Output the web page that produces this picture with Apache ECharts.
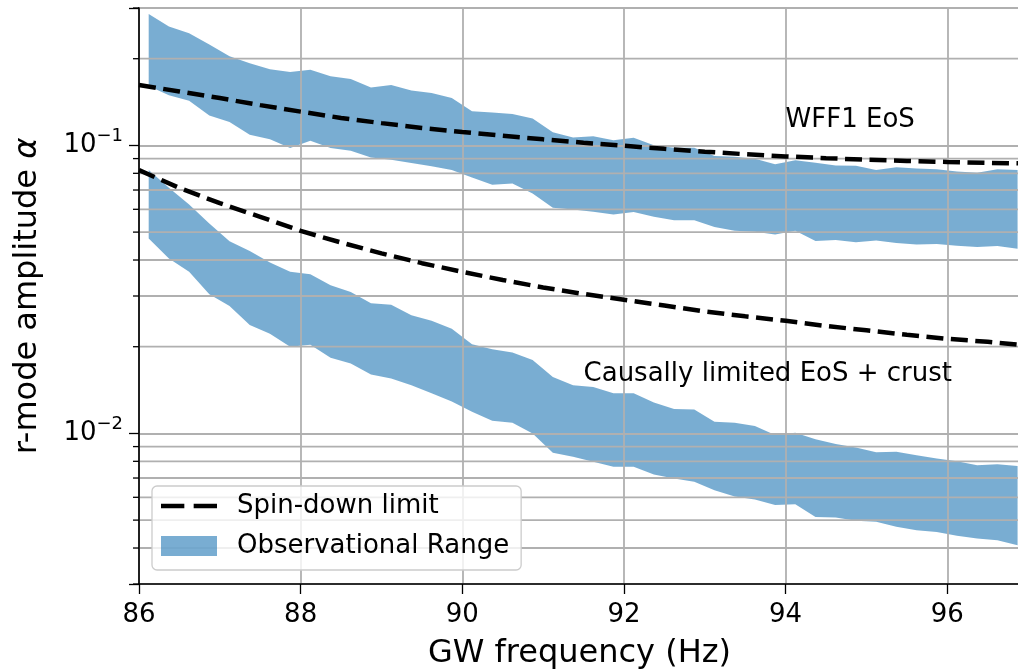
<!DOCTYPE html>
<html>
<head>
<meta charset="utf-8">
<script src="https://cdn.jsdelivr.net/npm/echarts@6/dist/echarts.min.js"></script>
<style>
  html, body { margin: 0; padding: 0; background: #ffffff; }
  #chart { width: 1018px; height: 670px; }
</style>
</head>
<body>
<div id="chart"></div>
<script>
// GW frequency samples of the observational bands (Hz)
const freq = [86.12, 86.37, 86.62, 86.87, 87.12, 87.37, 87.62, 87.87, 88.12, 88.37, 88.62,
  88.87, 89.12, 89.37, 89.62, 89.87, 90.12, 90.37, 90.62, 90.87, 91.12, 91.37, 91.62, 91.87,
  92.12, 92.37, 92.62, 92.87, 93.12, 93.37, 93.62, 93.87, 94.12, 94.37, 94.62, 94.87, 95.12,
  95.37, 95.62, 95.87, 96.12, 96.37, 96.62, 96.87];

// WFF1 EoS observational range (upper / lower edge)
const wffHigh = [0.286, 0.259, 0.245, 0.224, 0.204, 0.193, 0.184, 0.180, 0.183, 0.174, 0.170,
  0.159, 0.162, 0.155, 0.152, 0.146, 0.1315, 0.130, 0.1285, 0.124, 0.111, 0.1066, 0.1077, 0.1043,
  0.1063, 0.1002, 0.0981, 0.0981, 0.0918, 0.0913, 0.0899, 0.0861, 0.0889, 0.0870, 0.0852, 0.0850,
  0.0821, 0.0839, 0.0832, 0.0826, 0.0812, 0.0803, 0.0826, 0.0821];
const wffLow = [0.1607, 0.1492, 0.1429, 0.1271, 0.1205, 0.1088, 0.1051, 0.0979, 0.1037, 0.0979,
  0.0958, 0.0908, 0.0891, 0.0868, 0.0847, 0.0821, 0.0774, 0.0730, 0.0738, 0.0681, 0.0607, 0.0599,
  0.0588, 0.0576, 0.0587, 0.0565, 0.0550, 0.0550, 0.0521, 0.0505, 0.0501, 0.0491, 0.0505, 0.0466,
  0.0469, 0.0461, 0.0468, 0.0458, 0.0453, 0.0455, 0.0448, 0.0444, 0.0447, 0.0438];

// Causally limited EoS + crust observational range (upper / lower edge)
const causalHigh = [0.0821, 0.0713, 0.0624, 0.0536, 0.0465, 0.0430, 0.0392, 0.0364, 0.0357,
  0.0327, 0.0310, 0.0283, 0.0280, 0.0257, 0.0246, 0.0231, 0.0204, 0.0196, 0.0191, 0.0180, 0.0157,
  0.0147, 0.0145, 0.0138, 0.0138, 0.0128, 0.01215, 0.0121, 0.01097, 0.01088, 0.0106, 0.00987,
  0.01005, 0.00955, 0.00918, 0.00894, 0.00861, 0.00863, 0.00839, 0.00819, 0.00801, 0.00776,
  0.00782, 0.0077];
const causalLow = [0.0475, 0.0405, 0.0364, 0.0304, 0.0277, 0.0238, 0.0222, 0.0200, 0.0203,
  0.0183, 0.0175, 0.0160, 0.0155, 0.0147, 0.0138, 0.0129, 0.0119, 0.01106, 0.01088, 0.0100,
  0.00856, 0.00829, 0.00797, 0.00766, 0.00766, 0.0072, 0.00698, 0.00679, 0.00635, 0.00604,
  0.0059, 0.00564, 0.00568, 0.00513, 0.00511, 0.00497, 0.00493, 0.00474, 0.00461, 0.00455,
  0.00441, 0.00432, 0.00426, 0.00409];

// Spin-down limits
const sdFreq = [86, 86.5, 87, 87.5, 88, 88.5, 89, 89.5, 90, 90.5, 91, 91.5, 92, 92.5, 93, 93.5,
  94, 94.5, 95, 95.5, 96, 96.5, 96.9];
const sdWff = [0.162, 0.154, 0.146, 0.138, 0.131, 0.1245, 0.1195, 0.1150, 0.1113, 0.1080, 0.1050,
  0.1022, 0.0997, 0.0973, 0.0951, 0.0932, 0.0916, 0.0903, 0.0892, 0.0883, 0.0876, 0.0870, 0.0866];
const sdCausal = [0.0821, 0.0712, 0.0630, 0.0565, 0.0505, 0.0460, 0.0422, 0.0390, 0.0364, 0.0341,
  0.0321, 0.0305, 0.0291, 0.0278, 0.0265, 0.0255, 0.0246, 0.0236, 0.0228, 0.0220, 0.0213, 0.0208,
  0.0203];

// Axis ranges and ticks
const xRange = [86, 96.9];
const xTickStep = 2;
const yRange = [0.003, 0.3];
const yMinorTicks = [0.003, 0.004, 0.005, 0.006, 0.007, 0.008, 0.009,
  0.02, 0.03, 0.04, 0.05, 0.06, 0.07, 0.08, 0.09, 0.2, 0.3];

// Text annotations: [frequency, amplitude] of the text baseline start
const annotationText = ['WFF1 EoS', 'Causally limited EoS + crust'];
const annotationPos = [[94, 0.115], [91.5, 0.015]];

const FONT = 'DejaVu Sans';
const BAND_COLOR = 'rgba(31,119,180,0.6)';
const GRID_COLOR = '#b0b0b0';

function bandSeries(lo, hi) {
  const rows = freq.map((f, i) => [f, lo[i], hi[i]]);
  return {
    type: 'custom',
    name: 'Observational Range',
    z: 1,
    silent: true,
    itemStyle: { color: BAND_COLOR },
    encode: { x: 0, y: [1, 2] },
    data: rows,
    renderItem(params, api) {
      if (params.dataIndex !== 0) return null;
      const upper = rows.map(r => api.coord([r[0], r[2]]));
      const lower = rows.map(r => api.coord([r[0], r[1]])).reverse();
      return {
        type: 'polygon',
        shape: { points: upper.concat(lower) },
        style: { fill: BAND_COLOR }
      };
    }
  };
}

function spinDownSeries(values) {
  return {
    type: 'line',
    name: 'Spin-down limit',
    z: 3,
    silent: true,
    showSymbol: false,
    symbol: 'none',
    smooth: false,
    data: sdFreq.map((f, i) => [f, values[i]]),
    lineStyle: { color: '#000000', width: 4.5, type: [17, 7.5], cap: 'butt' },
    itemStyle: { color: '#000000' }
  };
}

// Minor log-scale gridlines and their short ticks on the amplitude axis
const minorGridSeries = {
  type: 'custom',
  name: 'minor-grid',
  z: 2,
  silent: true,
  data: yMinorTicks.map(v => [xRange[0], v]),
  renderItem(params, api) {
    const p = api.coord([api.value(0), api.value(1)]);
    const cs = params.coordSys;
    const children = [{
      type: 'line',
      shape: { x1: cs.x - 6, y1: p[1], x2: cs.x, y2: p[1] },
      style: { stroke: '#000000', lineWidth: 1.3 }
    }];
    if (p[1] > cs.y + 1 && p[1] < cs.y + cs.height - 1) {
      children.push({
        type: 'line',
        shape: { x1: cs.x, y1: p[1], x2: cs.x + cs.width, y2: p[1] },
        style: { stroke: GRID_COLOR, lineWidth: 1.8 }
      });
    }
    return { type: 'group', children };
  }
};

const annotationSeries = {
  type: 'custom',
  name: 'annotations',
  z: 4,
  silent: true,
  data: annotationPos.map((p, i) => [p[0], p[1], i]),
  renderItem(params, api) {
    const p = api.coord([api.value(0), api.value(1)]);
    return {
      type: 'text',
      x: p[0],
      y: p[1] - 8,
      style: {
        text: annotationText[api.value(2)],
        fontFamily: FONT,
        fontSize: 26,
        fill: '#000000',
        align: 'left',
        verticalAlign: 'middle'
      }
    };
  }
};

// Labels only at integer powers of ten, written as 10^n
function powerLabel(v) {
  const e = Math.log10(v);
  const r = Math.round(e);
  if (Math.abs(e - r) > 1e-6) return '';
  return '10{sup|' + (r < 0 ? '\u2212' : '') + Math.abs(r) + '}';
}

const chart = echarts.init(document.getElementById('chart'), null, { renderer: 'canvas' });

chart.setOption({
  animation: false,
  backgroundColor: '#ffffff',
  textStyle: { fontFamily: FONT, color: '#000000' },
  grid: {
    left: 139, top: 8, width: 881, height: 576,
    show: true, borderColor: '#000000', borderWidth: 1.6, backgroundColor: 'transparent',
    containLabel: false,
    outerBoundsMode: 'none'
  },
  legend: {
    left: 152, top: 486,
    orient: 'vertical',
    z: 10,
    itemWidth: 56, itemHeight: 20, itemGap: 14,
    padding: [7, 12, 11, 9],
    backgroundColor: 'rgba(255,255,255,0.8)',
    borderColor: '#cccccc', borderWidth: 1.3, borderRadius: 5,
    selectedMode: false,
    textStyle: { fontFamily: FONT, fontSize: 26, color: '#000000', lineHeight: 26, padding: [0, 0, 0, 15] },
    data: [
      { name: 'Spin-down limit', icon: 'path://M0,0H20V4H0Z M28,0H48V4H28Z', itemStyle: { color: '#000000' } },
      { name: 'Observational Range', icon: 'rect', itemStyle: { color: BAND_COLOR } }
    ]
  },
  xAxis: {
    type: 'value',
    min: xRange[0], max: xRange[1], interval: xTickStep,
    z: 2,
    name: 'GW frequency (Hz)',
    nameLocation: 'middle', nameGap: 54,
    nameTextStyle: { fontFamily: FONT, fontSize: 32, color: '#000000' },
    axisLine: { show: true, onZero: false, lineStyle: { color: '#000000', width: 1.6 } },
    axisTick: { show: true, inside: false, length: 10, lineStyle: { color: '#000000', width: 1.3 } },
    axisLabel: { show: true, margin: 18, fontFamily: FONT, fontSize: 26, color: '#000000', showMaxLabel: false },
    splitLine: { show: true, lineStyle: { color: GRID_COLOR, width: 1.8 } }
  },
  yAxis: {
    type: 'log', logBase: 10,
    min: yRange[0], max: yRange[1],
    z: 2,
    name: 'r-mode amplitude {it|α}',
    nameLocation: 'middle', nameGap: 95,
    nameTextStyle: {
      fontFamily: FONT, fontSize: 32, color: '#000000',
      rich: { it: { fontFamily: FONT, fontSize: 32, fontStyle: 'italic', color: '#000000' } }
    },
    axisLine: { show: true, onZero: false, lineStyle: { color: '#000000', width: 1.6 } },
    axisTick: { show: true, length: 10, lineStyle: { color: '#000000', width: 1.3 } },
    axisLabel: {
      show: true, margin: 16,
      fontFamily: FONT, fontSize: 26, color: '#000000',
      formatter: powerLabel,
      rich: { sup: { fontFamily: FONT, fontSize: 18, color: '#000000', padding: [0, 0, 18, 0] } }
    },
    splitLine: { show: true, lineStyle: { color: GRID_COLOR, width: 1.8 } }
  },
  series: [
    bandSeries(wffLow, wffHigh),
    bandSeries(causalLow, causalHigh),
    minorGridSeries,
    spinDownSeries(sdWff),
    spinDownSeries(sdCausal),
    annotationSeries
  ]
});
</script>
</body>
</html>
